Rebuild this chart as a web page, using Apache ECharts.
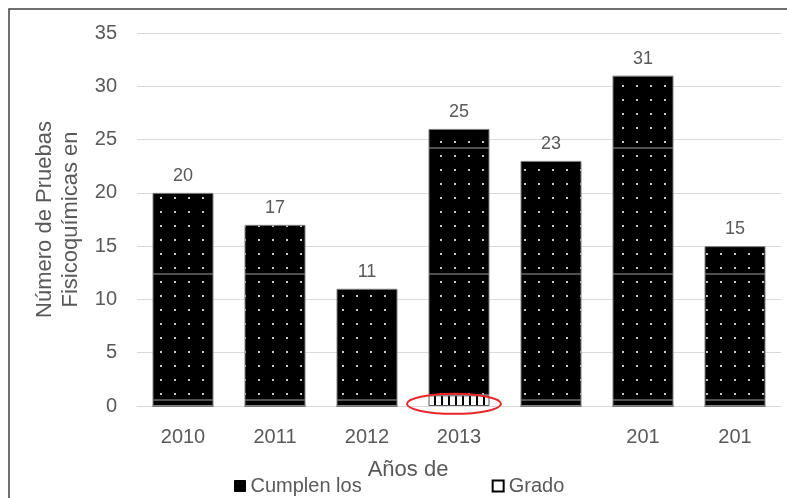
<!DOCTYPE html>
<html>
<head>
<meta charset="utf-8">
<script src="https://cdn.jsdelivr.net/npm/echarts@6/dist/echarts.min.js"></script>
<style>
html,body{margin:0;padding:0;background:#fff;}
#c{width:787px;height:498px;}
</style>
</head>
<body>
<div id="c"></div>
<script>
const categories = ['2010', '2011', '2012', '2013', '', '201', '201'];
const cumplenValues = [20, 17, 11, 25, 23, 31, 15];
const gradoValues = [0, 0, 0, 1, 0, 0, 0];
const seriesNames = ['Cumplen los', 'Grado'];
const yTicks = { min: 0, max: 35, interval: 5 };
const xAxisName = 'Años de';
const yAxisName = 'Número de Pruebas\nFisicoquímicas en';

function dotPattern() {
  const c = document.createElement('canvas');
  c.width = 14; c.height = 126;
  const g = c.getContext('2d');
  g.fillStyle = '#000';
  g.fillRect(0, 0, 14, 126);
  g.fillStyle = '#c8c8c8';
  for (let r = 0; r < 9; r++) {
    const y = 1 + r * 14;
    g.fillRect(6, y, 2, 2);
  }
  g.fillStyle = '#505050';
  g.fillRect(0, 21, 14, 2);
  return c;
}
function stripePattern() {
  const c = document.createElement('canvas');
  c.width = 7; c.height = 10;
  const g = c.getContext('2d');
  g.fillStyle = '#fff';
  g.fillRect(0, 0, 7, 10);
  g.fillStyle = '#000';
  g.fillRect(0, 0, 2, 10);
  return c;
}

const chart = echarts.init(document.getElementById('c'), null, { renderer: 'canvas' });
const textColor = '#595959';
const font = 'Liberation Sans';

chart.setOption({
  animation: false,
  backgroundColor: '#fff',
  grid: { left: 137, right: 6, top: 33, bottom: 92, containLabel: false },
  legend: {
    bottom: -3,
    left: 229,
    itemGap: 130,
    itemWidth: 11,
    itemHeight: 11,
    icon: 'rect',
    textStyle: { color: textColor, fontFamily: font, fontSize: 20 },
    data: [
      { name: seriesNames[0], itemStyle: { color: '#000', borderColor: '#000', borderWidth: 1 } },
      { name: seriesNames[1], itemStyle: { color: '#fff', borderColor: '#000', borderWidth: 2 } }
    ]
  },
  xAxis: {
    type: 'category',
    data: categories,
    name: xAxisName,
    nameLocation: 'middle',
    nameGap: 53,
    nameTextStyle: { color: textColor, fontFamily: font, fontSize: 22, padding: [0, 102, 0, 0] },
    axisLine: { lineStyle: { color: '#d9d9d9' } },
    axisTick: { show: false },
    axisLabel: { color: textColor, fontFamily: font, fontSize: 20, margin: 21 }
  },
  yAxis: {
    type: 'value',
    min: yTicks.min, max: yTicks.max, interval: yTicks.interval,
    name: yAxisName,
    nameLocation: 'middle',
    nameGap: 47,
    nameTextStyle: { color: textColor, fontFamily: font, fontSize: 22, lineHeight: 26 },
    axisLine: { show: false },
    axisTick: { show: false },
    splitLine: { lineStyle: { color: '#d9d9d9', width: 1 } },
    axisLabel: { color: textColor, fontFamily: font, fontSize: 20, margin: 20 }
  },
  series: [
    {
      name: seriesNames[1],
      type: 'bar',
      stack: 'total',
      barWidth: 61,
      data: gradoValues,
      itemStyle: { color: { image: stripePattern(), repeat: 'repeat' }, borderColor: '#595959', borderWidth: 1 }
    },
    {
      name: seriesNames[0],
      type: 'bar',
      stack: 'total',
      barWidth: 61,
      data: cumplenValues,
      itemStyle: { color: { image: dotPattern(), repeat: 'repeat' }, borderColor: '#7f7f7f', borderWidth: 1 },
      label: { show: true, position: 'top', distance: 8, color: textColor, fontFamily: font, fontSize: 18 }
    }
  ]
});

const p = chart.convertToPixel({ xAxisIndex: 0, yAxisIndex: 0 }, [3, 0.2]);
chart.setOption({
  graphic: [
    { type: 'rect', silent: true, shape: { x: 9, y: 9, width: 800, height: 520 }, style: { fill: 'none', stroke: '#404040', lineWidth: 1.5 } },
    { type: 'ellipse', silent: true, shape: { cx: p[0] - 5, cy: p[1], rx: 47, ry: 10 }, style: { fill: 'none', stroke: '#e8262a', lineWidth: 2 }, z: 100 }
  ]
});
</script>
</body>
</html>
